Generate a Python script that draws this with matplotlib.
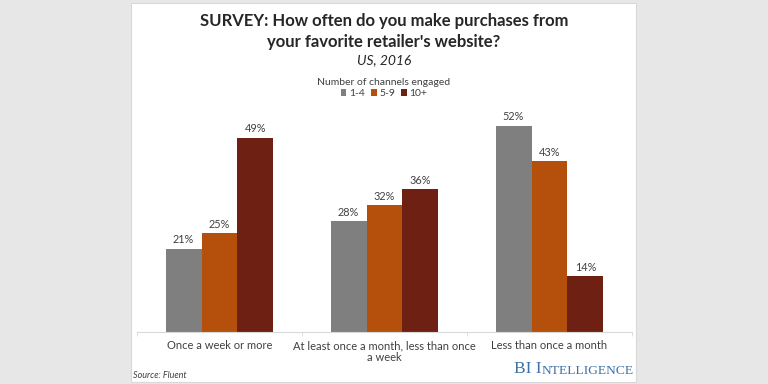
import matplotlib.pyplot as plt
import numpy as np
from matplotlib.patches import Rectangle

# datos
categorias = ["Once a week or more",
              "At least once a month, less than once\na week",
              "Less than once a month"]
grupos = ["1-4", "5-9", "10+"]
v_1_4 = [21, 28, 52]
v_5_9 = [25, 32, 43]
v_10 = [49, 36, 14]
colores = ["#7f7f7f", "#b5500c", "#6e2112"]

plt.rcParams['font.family'] = ['Lato', 'DejaVu Sans']

fig = plt.figure(figsize=(7.68, 3.84), dpi=100)
fig.patch.set_facecolor("#e7e7e7")

# panel blanco
panel = Rectangle((131 / 768, 2 / 384), (636 - 131) / 768, (381 - 2) / 384,
                  transform=fig.transFigure, facecolor="white",
                  edgecolor="#d8d8d8", linewidth=0.8, zorder=-5)
fig.patches.append(panel)

ax = fig.add_axes([137 / 768, 52 / 384, (632 - 137) / 768, 0.62])
ax.set_facecolor("none")

x = np.arange(len(categorias))
ancho = 0.218
series = [v_1_4, v_5_9, v_10]
for i, (vals, col, nombre) in enumerate(zip(series, colores, grupos)):
    barras = ax.bar(x + (i - 1) * ancho, vals, ancho, color=col, label=nombre)
    for b, v in zip(barras, vals):
        ax.text(b.get_x() + b.get_width() / 2, v + 0.8, f"{v}%",
                ha="center", va="bottom", fontsize=7.8, color="#404040")

ax.set_xlim(-0.5, 2.5)
ax.set_ylim(0, 60)
ax.set_yticks([])
for s in ["top", "right", "left"]:
    ax.spines[s].set_visible(False)
ax.spines["bottom"].set_color("#d9d9d9")
ax.spines["bottom"].set_linewidth(0.8)
ax.set_xticks(x)
ax.set_xticklabels(categorias, fontsize=8, color="#404040", linespacing=1.1)
ax.tick_params(axis="x", length=0, pad=6)
ax.set_xticks([-0.5, 0.5, 1.5, 2.5], minor=True)
ax.tick_params(axis="x", which="minor", length=3, color="#d9d9d9")

# titulos
fig.text(0.5, 1 - 21 / 384, "SURVEY: How often do you make purchases from",
         ha="center", va="center", fontsize=12, fontweight="bold", color="#262626")
fig.text(0.5, 1 - 42 / 384, "your favorite retailer's website?",
         ha="center", va="center", fontsize=12, fontweight="bold", color="#262626")
fig.text(0.5, 1 - 60 / 384, "US, 2016", ha="center", va="center",
         fontsize=10, style="italic", color="#262626")

leg = fig.legend(loc="upper center", bbox_to_anchor=(0.5, 1 - 73 / 384), ncol=3,
                 frameon=False, title="Number of channels engaged",
                 fontsize=7.5, title_fontsize=7.5, handlelength=0.55,
                 handleheight=0.55, handletextpad=0.25, columnspacing=0.6,
                 borderpad=0, labelspacing=0.2)
for t in leg.get_texts():
    t.set_color("#404040")
leg.get_title().set_color("#404040")

fig.text(133 / 768, 1 - 375 / 384, "Source: Fluent", ha="left", va="center",
         fontsize=6.5, style="italic", color="#404040")

# logo
t1 = fig.text(514 / 768, 1 - 377 / 384, "BI I", ha="left", va="bottom",
              fontsize=12.4, family="Liberation Serif", color="#3f70a8")
ax.annotate("NTELLIGENCE", xy=(1, 0), xycoords=t1, ha="left", va="bottom",
            fontsize=9.7, family="Liberation Serif", color="#3f70a8",
            annotation_clip=False)

fig.savefig("out.png", dpi=100, facecolor=fig.get_facecolor())
